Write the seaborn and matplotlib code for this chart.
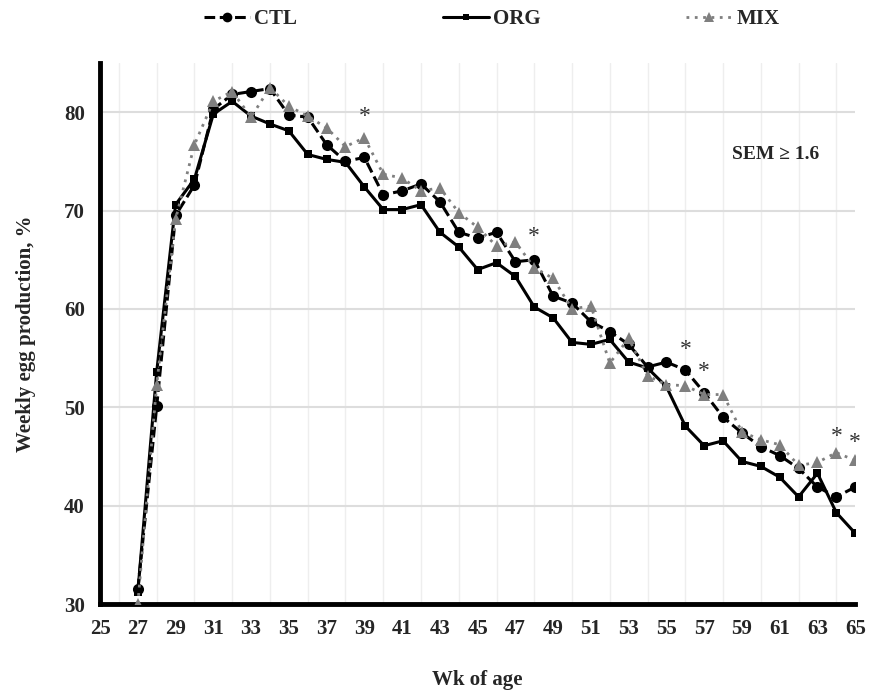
import pandas as pd
import seaborn as sns
import matplotlib.pyplot as plt
from matplotlib.lines import Line2D

# Weekly egg production (%)
weeks = list(range(27, 66))
ctl = [31.5, 50.1, 69.5, 72.6, 80.3, 81.8, 82.1, 82.4, 79.7, 79.5,
       76.7, 75.0, 75.4, 71.6, 72.0, 72.7, 70.9, 67.8, 67.2, 67.8,
       64.8, 65.0, 61.3, 60.6, 58.7, 57.7, 56.4, 54.1, 54.6, 53.8,
       51.5, 49.0, 47.4, 46.0, 45.1, 43.8, 41.9, 40.9, 41.9]
org = [31.2, 53.6, 70.6, 73.2, 79.8, 81.1, 79.6, 78.8, 78.1, 75.7,
       75.2, 74.9, 72.4, 70.1, 70.1, 70.6, 67.8, 66.3, 64.0, 64.7,
       63.3, 60.2, 59.1, 56.6, 56.4, 56.9, 54.6, 54.0, 52.1, 48.1,
       46.1, 46.6, 44.5, 44.0, 42.9, 40.9, 43.3, 39.3, 37.2]
mix = [30.0, 52.3, 69.1, 76.7, 81.1, 82.1, 79.5, 82.5, 80.6, 79.6,
       78.4, 76.5, 77.4, 73.7, 73.3, 72.0, 72.3, 69.8, 68.3, 66.4,
       66.8, 64.2, 63.1, 60.0, 60.3, 54.5, 57.0, 53.2, 52.3, 52.2,
       51.3, 51.3, 47.5, 46.7, 46.2, 44.1, 44.4, 45.4, 44.6]

# Weeks with significant differences (asterisks) and label heights
sig_weeks = [39, 48, 56, 57, 64, 65]
sig_y = [79.6, 67.4, 55.9, 53.6, 47.0, 46.4]

treatments = ['CTL', 'ORG', 'MIX']

df = pd.DataFrame({
    'week': weeks * 3,
    'production': ctl + org + mix,
    'treatment': [t for t in treatments for _ in weeks],
})

sns.set_theme(style='white')
plt.rcParams['font.family'] = ['Liberation Serif', 'DejaVu Serif']
plt.rcParams['font.weight'] = 'bold'

fig = plt.figure(figsize=(8.7, 6.92), dpi=100)
ax = fig.add_axes([0.115, 0.127, 0.868, 0.782])

palette = {'CTL': 'black', 'ORG': 'black', 'MIX': '#7f7f7f'}
markers = {'CTL': 'o', 'ORG': 's', 'MIX': '^'}
dashes = {'CTL': (3.5, 1.5), 'ORG': '', 'MIX': (1, 2)}
widths = {'CTL': 2.2, 'ORG': 2.2, 'MIX': 2.0}
msizes = {'CTL': 8, 'ORG': 5.5, 'MIX': 8}

for t in treatments:
    sub = df[df['treatment'] == t]
    sns.lineplot(data=sub, x='week', y='production', color=palette[t],
                 marker=markers[t], markersize=msizes[t], markeredgewidth=0,
                 dashes=False, linewidth=widths[t], ax=ax, zorder=3)
    line = ax.lines[-1]
    if dashes[t]:
        line.set_dashes(dashes[t])

# Gridlines
ax.set_xlim(25, 65)
ax.set_ylim(30, 85)
ax.set_xticks(range(25, 66, 2))
ax.set_xticks(range(25, 66), minor=True)
ax.set_yticks(range(30, 81, 10))
ax.grid(axis='y', which='major', color='#dddddd', linewidth=1.5, zorder=0)
ax.grid(axis='x', which='minor', color='#eeeeee', linewidth=1, zorder=0)
ax.set_axisbelow(True)

for side in ['top', 'right']:
    ax.spines[side].set_visible(False)
for side in ['left', 'bottom']:
    ax.spines[side].set_linewidth(3.5)
    ax.spines[side].set_color('black')

ax.tick_params(axis='both', which='major', direction='out', length=5,
               width=2.5, color='black', labelsize=15, pad=6)
ax.tick_params(axis='x', which='minor', length=0)
for lbl in ax.get_xticklabels() + ax.get_yticklabels():
    lbl.set_fontweight('bold')

ax.set_xlabel('Wk of age', fontsize=15, fontweight='bold', labelpad=22)
ax.set_ylabel('Weekly egg production, %', fontsize=15, fontweight='bold', labelpad=20)

for w, y in zip(sig_weeks, sig_y):
    ax.text(w, y, '*', ha='center', va='center', fontsize=17,
            fontweight='normal', color='#333333')

ax.text(63.1, 75.7, 'SEM ≥ 1.6', ha='right', va='center', fontsize=14,
        fontweight='bold')

handles = []
for t in treatments:
    h = Line2D([], [], color=palette[t], marker=markers[t],
               markersize=msizes[t] - 1, linewidth=widths[t], markeredgewidth=0)
    if dashes[t]:
        h.set_dashes(dashes[t])
    handles.append(h)
fig.legend(handles, treatments, loc='center', bbox_to_anchor=(0.565, 0.972),
           ncol=3, frameon=False, columnspacing=7.0,
           handlelength=2.2, handletextpad=0.2, prop={'weight': 'bold', 'size': 15})

plt.savefig('out.png', dpi=100)
